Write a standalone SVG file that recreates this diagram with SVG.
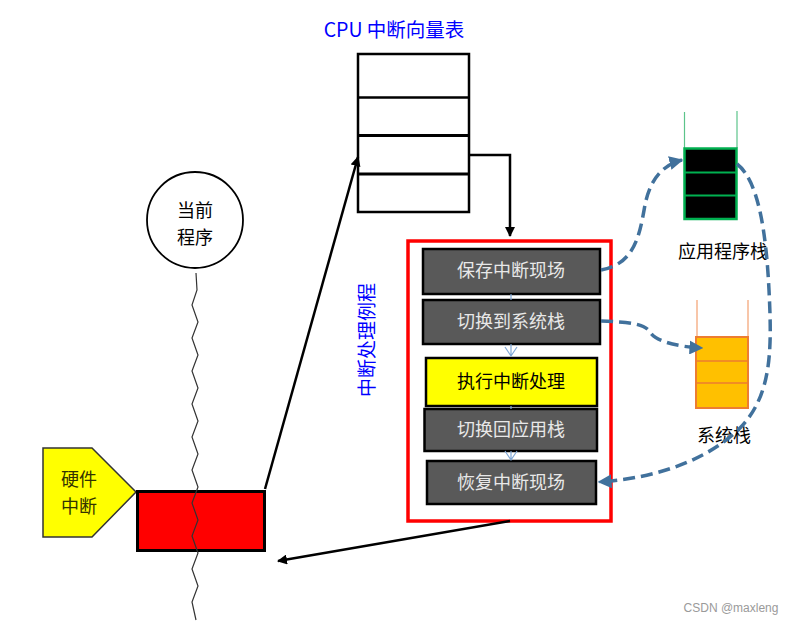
<svg xmlns="http://www.w3.org/2000/svg" width="795" height="624" viewBox="0 0 795 624">
<style>
text{font-family:"Noto Sans CJK SC","Liberation Sans",sans-serif;font-size:18px;text-anchor:middle}
.blue{fill:#0000ff}
.step{fill:#595959;stroke:#000;stroke-width:2.5}
.steptxt{fill:#e8e8e8}
.blk{fill:none;stroke:#000;stroke-width:2.5}
.dash{fill:none;stroke:#41719c;stroke-width:3.5;stroke-dasharray:12 6}
.thin{fill:none;stroke:#7fa7d6;stroke-width:1.2}
</style>
<defs>
<marker id="ab" viewBox="0 0 10 10" refX="9" refY="5" markerWidth="4" markerHeight="4" orient="auto" markerUnits="strokeWidth"><path d="M0,0 L10,5 L0,10 Z" fill="#000"/></marker>
<marker id="ad" viewBox="0 0 10 10" refX="9" refY="5" markerWidth="4" markerHeight="4" orient="auto" markerUnits="strokeWidth"><path d="M0,0 L10,5 L0,10 Z" fill="#41719c"/></marker>
</defs>
<rect width="795" height="624" fill="#fff"/>

<g id="title"><text class="blue" x="394" y="37" style="font-size:19.5px">CPU 中断向量表</text></g>

<g id="vector-table" fill="none" stroke="#000" stroke-width="2.5">
<rect x="358" y="54" width="111" height="158" fill="#fff"/>
<line x1="358" y1="97.5" x2="469" y2="97.5"/>
<line x1="358" y1="135.5" x2="469" y2="135.5" stroke-width="3"/>
<line x1="358" y1="174" x2="469" y2="174" stroke-width="3"/>
</g>

<g id="current-program">
<circle cx="195" cy="220" r="48" fill="#fff" stroke="#000" stroke-width="1.8"/>
<text x="195" y="217">当前</text>
<text x="195" y="244">程序</text>
</g>

<g id="hw-interrupt">
<polygon points="43,448 92,448 136,492 92,537 43,537" fill="#ffff00" stroke="#333" stroke-width="1.5"/>
<text x="79" y="486" fill="#333300">硬件</text>
<text x="79" y="513" fill="#333300">中断</text>
</g>

<g id="interrupt-block">
<rect x="137.5" y="491.5" width="127" height="59" fill="#ff0000" stroke="#000" stroke-width="3"/>
</g>

<g id="thread-line">
<path d="M196,273 L197,290 L192,305 L198,322 L192,338 L198,355 L192,371 L198,388 L192,404 L198,421 L192,437 L198,454 L192,470 L198,487 L192,503 L198,520 L192,536 L198,553 L192,569 L198,586 L192,602 L196,620" fill="none" stroke="#333" stroke-width="1.2"/>
</g>

<g id="isr-frame">
<rect x="408" y="241" width="203" height="280" fill="#fff" stroke="#ff0000" stroke-width="3.5"/>
</g>
<g id="isr-label"><text class="blue" transform="translate(374,340) rotate(-90)" style="font-size:19px">中断处理例程</text></g>

<g id="step1"><rect class="step" x="423" y="249" width="177" height="45"/><text class="steptxt" x="511" y="277">保存中断现场</text></g>
<g id="step2"><rect class="step" x="423" y="300" width="177" height="44"/><text class="steptxt" x="511" y="328">切换到系统栈</text></g>
<g id="step3"><rect x="426" y="358" width="171" height="48" fill="#ffff00" stroke="#000" stroke-width="2.5"/><text x="511" y="388" fill="#000">执行中断处理</text></g>
<g id="step4"><rect class="step" x="424.5" y="409" width="172.5" height="42"/><text class="steptxt" x="511" y="436">切换回应用栈</text></g>
<g id="step5"><rect class="step" x="427" y="461" width="169" height="43"/><text class="steptxt" x="511" y="489">恢复中断现场</text></g>

<g id="app-stack">
<line x1="684.5" y1="112" x2="684.5" y2="148" stroke="#5cc48a" stroke-width="1.2"/>
<line x1="737" y1="111" x2="737" y2="148" stroke="#5cc48a" stroke-width="1.2"/>
<rect x="684.5" y="148.5" width="52" height="70.5" fill="#000" stroke="#00b050" stroke-width="2.5"/>
<line x1="684.5" y1="172.5" x2="736.5" y2="172.5" stroke="#00b050" stroke-width="2"/>
<line x1="684.5" y1="195.5" x2="736.5" y2="195.5" stroke="#00b050" stroke-width="2"/>
<text x="723" y="258" fill="#000">应用程序栈</text>
</g>

<g id="sys-stack">
<line x1="697" y1="300" x2="697" y2="337" stroke="#f4a070" stroke-width="1.2"/>
<line x1="748" y1="300" x2="748" y2="337" stroke="#f4a070" stroke-width="1.2"/>
<rect x="696" y="337" width="52" height="71" fill="#ffc000" stroke="#ed7d31" stroke-width="2"/>
<line x1="696" y1="361" x2="748" y2="361" stroke="#ed7d31" stroke-width="1.5"/>
<line x1="696" y1="383" x2="748" y2="383" stroke="#ed7d31" stroke-width="1.5"/>
<text x="724" y="442" fill="#000">系统栈</text>
</g>

<g id="connectors">
<path class="blk" d="M469,155 H510 V236" marker-end="url(#ab)"/>
<path class="blk" d="M265,489 L358,157" marker-end="url(#ab)"/>
<path class="blk" d="M510,521 L278,561" marker-end="url(#ab)"/>
<line class="thin" x1="511" y1="294" x2="511" y2="300"/>
<path class="thin" d="M511,344 V356 M505,347 L511,356 L517,347"/>
<line class="thin" x1="511" y1="406" x2="511" y2="409"/>
<path class="thin" d="M511,451 V460 M505,451 L511,460 L517,451"/>
<path class="dash" d="M601,270 C636,264 640,232 645,205 C650,180 662,165 682,160" marker-end="url(#ad)"/>
<path class="dash" d="M601,321 C630,322 645,324 650,332 C656,342 680,347 702,348" marker-end="url(#ad)"/>
<path class="dash" d="M737,164 C758,180 766,230 769,290 C772,350 772,395 740,428 C710,458 660,478 599,482" marker-end="url(#ad)"/>
</g>

<g id="watermark"><text x="731" y="612" style="font-size:12px;font-family:'Liberation Sans',sans-serif" fill="#9a9a9a">CSDN @maxleng</text></g>
</svg>
